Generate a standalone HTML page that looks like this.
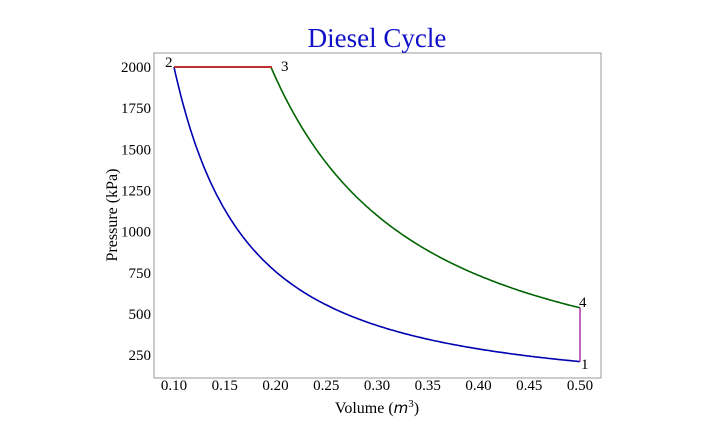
<!DOCTYPE html><html><head><style>body{margin:0;background:#fff}</style></head><body>
<svg id="s" width="720" height="431" xmlns="http://www.w3.org/2000/svg" font-family="Liberation Serif, serif">
<rect x="154" y="53" width="447" height="325" fill="none" stroke="#999" stroke-width="1"/>
<text x="377" y="47" text-anchor="middle" font-size="27" fill="#1010c8">Diesel Cycle</text>
<text x="377" y="413" text-anchor="middle" font-size="16">Volume (<tspan font-style="italic" font-family="DejaVu Sans, sans-serif" font-size="15">m</tspan><tspan font-size="11" dy="-6">3</tspan><tspan dy="6">)</tspan></text>
<text transform="translate(117,215) rotate(-90)" text-anchor="middle" font-size="16">Pressure (kPa)</text>
<g id="xt" font-size="15" text-anchor="middle"></g>
<g id="yt" font-size="15" text-anchor="end"></g>
<path id="c" fill="none" stroke="#0000b0" stroke-width="1.6"/>
<path id="e" fill="none" stroke="#006400" stroke-width="1.6"/>
<line x1="174" y1="67" x2="272" y2="67" stroke="#c03030" stroke-width="2"/>
<line id="v" stroke="#b040b0" stroke-width="1.6"/>
<text x="165" y="67" font-size="15">2</text>
<text x="281" y="71" font-size="15">3</text>
<text x="579" y="307" font-size="15">4</text>
<text x="581" y="369" font-size="15">1</text>
</svg>
<script>
var X=v=>174+(v-0.1)*1015,Y=p=>67+(2000-p)*0.1646,ns="http://www.w3.org/2000/svg";
var xt=document.getElementById('xt');
for(var i=0;i<9;i++){var v=0.1+i*0.05,t=document.createElementNS(ns,'text');t.setAttribute('x',X(v));t.setAttribute('y',390);t.textContent=v.toFixed(2);xt.appendChild(t);}
var yt=document.getElementById('yt');
for(var p=250;p<=2000;p+=250){var t=document.createElementNS(ns,'text');t.setAttribute('x',151);t.setAttribute('y',Y(p)+5);t.textContent=p;yt.appendChild(t);}
var k=1.4,P1=2000/Math.pow(5,k),V3=0.1955,d="",e="";
for(var i=0;i<=200;i++){var v=0.1+0.4*i/200;d+=(i?"L":"M")+X(v).toFixed(1)+","+Y(P1*Math.pow(0.5/v,k)).toFixed(1);
var w=V3+(0.5-V3)*i/200;e+=(i?"L":"M")+X(w).toFixed(1)+","+Y(2000*Math.pow(V3/w,k)).toFixed(1);}
document.getElementById('c').setAttribute('d',d);document.getElementById('e').setAttribute('d',e);
var P4=2000*Math.pow(V3/0.5,k),l=document.getElementById('v');
l.setAttribute('x1',X(0.5));l.setAttribute('x2',X(0.5));l.setAttribute('y1',Y(P4));l.setAttribute('y2',Y(P1));
</script>
</body></html>
